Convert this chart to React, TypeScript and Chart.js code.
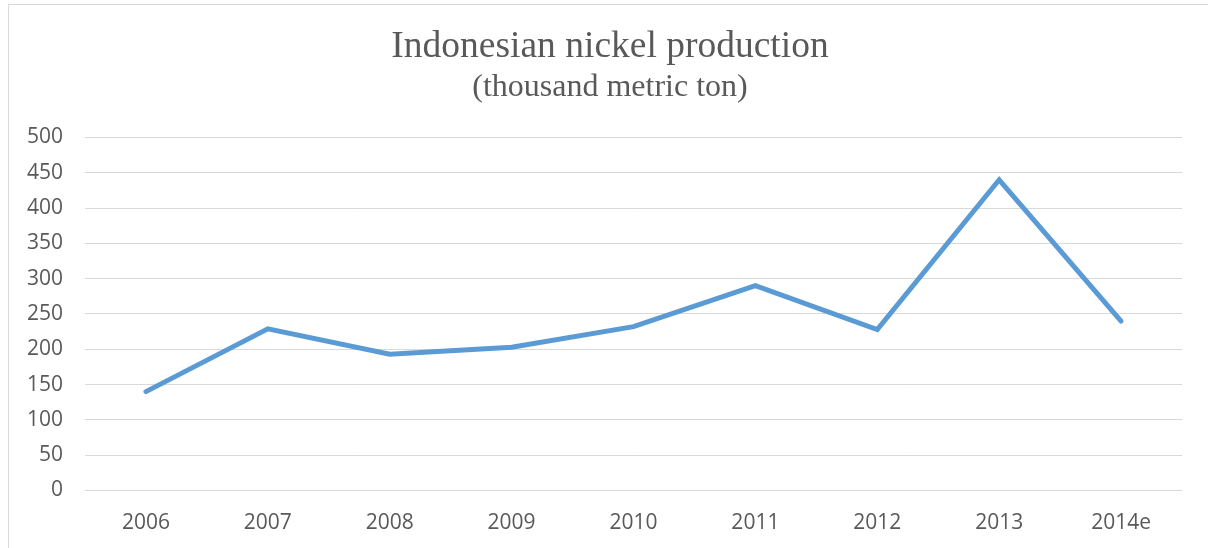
import React, { useEffect, useRef } from "react";
import { Chart, registerables } from "chart.js";

Chart.register(...registerables);

const categories = ["2006", "2007", "2008", "2009", "2010", "2011", "2012", "2013", "2014e"];
const production = [140, 229, 193, 203, 232, 290, 228, 440, 240];
const yTicks = [0, 50, 100, 150, 200, 250, 300, 350, 400, 450, 500];
const titleText = "Indonesian nickel production";
const subtitleText = "(thousand metric ton)";

export default function App() {
  const ref = useRef<HTMLCanvasElement | null>(null);

  useEffect(() => {
    if (!ref.current) return;
    const chart = new Chart(ref.current, {
      type: "line",
      data: {
        labels: categories,
        datasets: [
          {
            data: production,
            borderColor: "#5B9BD5",
            backgroundColor: "#5B9BD5",
            borderWidth: 5,
            pointRadius: 0,
            pointHoverRadius: 0,
            tension: 0,
            borderCapStyle: "round",
            borderJoinStyle: "miter",
            fill: false,
          },
        ],
      },
      options: {
        responsive: false,
        animation: false,
        layout: { padding: { left: 12, right: 0, top: 0, bottom: 0 } },
        plugins: {
          legend: { display: false },
          tooltip: { enabled: false },
          title: {
            display: true,
            text: titleText,
            color: "#595959",
            font: { family: "'Liberation Serif', 'Times New Roman', serif", size: 37.5, weight: "normal" },
            padding: { top: 25, bottom: -2 },
          },
          subtitle: {
            display: true,
            text: subtitleText,
            color: "#595959",
            font: { family: "'Liberation Serif', 'Times New Roman', serif", size: 32, weight: "normal" },
            padding: { top: 0, bottom: 31 },
          },
        },
        scales: {
          x: {
            offset: true,
            grid: { display: false, drawTicks: false },
            border: { display: false },
            ticks: {
              color: "#595959",
              font: { family: "'Open Sans', sans-serif", size: 21 },
              padding: 20,
              maxRotation: 0,
              autoSkip: false,
            },
            afterFit: (s: any) => {
              s.height = 57.5;
            },
          },
          y: {
            min: 0,
            max: 500,
            afterBuildTicks: (s: any) => {
              s.ticks = yTicks.map((v) => ({ value: v }));
            },
            grid: { color: "#d9d9d9", lineWidth: 1, drawTicks: false },
            border: { display: false },
            ticks: {
              color: "#595959",
              font: { family: "'Open Sans', sans-serif", size: 21 },
              padding: 22,
            },
            afterFit: (s: any) => {
              s.width = 73;
            },
          },
          yRight: {
            position: "right",
            display: true,
            min: 0,
            max: 500,
            grid: { display: false, drawTicks: false },
            border: { display: false },
            ticks: { display: false },
            afterFit: (s: any) => {
              s.width = 26;
            },
          },
        },
      },
    });
    return () => chart.destroy();
  }, []);

  return (
    <div style={{ position: "fixed", left: 0, top: 0, width: 1208, height: 548, overflow: "hidden", background: "#ffffff" }}>
      <div
        style={{
          position: "absolute",
          left: 8,
          top: 4,
          width: 1240,
          height: 580,
          border: "1px solid #d9d9d9",
          boxSizing: "border-box",
        }}
      />
      <canvas ref={ref} width={1208} height={548} style={{ position: "absolute", left: 0, top: 0, width: 1208, height: 548 }} />
    </div>
  );
}
